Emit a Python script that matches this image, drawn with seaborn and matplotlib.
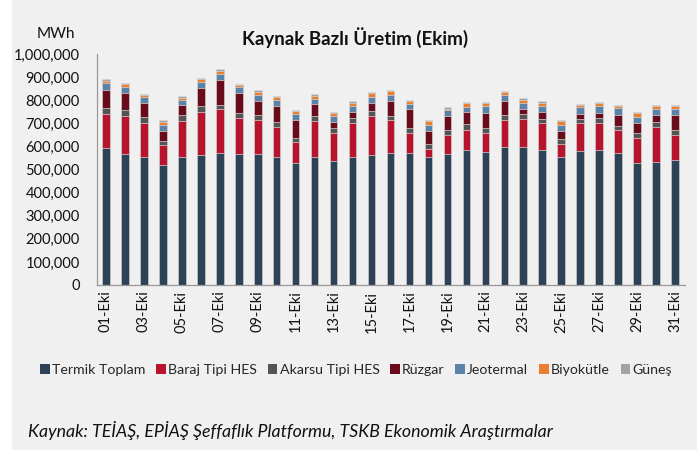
import matplotlib.pyplot as plt
import numpy as np
import pandas as pd
import seaborn as sns
from matplotlib.patches import Rectangle
from matplotlib.ticker import FuncFormatter, FixedLocator

days = ['{:02d}-Eki'.format(d) for d in range(1, 32)]

# MWh
termik = [594, 569, 556, 521, 556, 564, 573, 569, 569, 556, 527, 556, 535, 553, 564, 573,
          573, 553, 569, 584, 574, 597, 599, 584, 556, 580, 584, 570, 527, 532, 543]
baraj = [148, 163, 145, 84, 155, 186, 188, 153, 144, 127, 91, 153, 122, 150, 169, 140,
         86, 36, 82, 86, 85, 116, 120, 116, 56, 120, 119, 101, 109, 152, 108]
akarsu = [23, 24, 26, 18, 26, 25, 18, 21, 24, 23, 18, 23, 23, 20, 20, 19,
          21, 21, 20, 26, 22, 23, 23, 19, 20, 19, 20, 19, 22, 22, 20]
ruzgar = [81, 75, 62, 45, 42, 79, 110, 88, 61, 68, 80, 52, 27, 26, 36, 66,
          81, 58, 62, 52, 65, 61, 21, 31, 36, 23, 23, 47, 45, 31, 66]
jeotermal = [30, 28, 25, 25, 23, 26, 23, 25, 25, 28, 26, 23, 26, 26, 23, 23,
             24, 26, 23, 21, 29, 24, 26, 25, 25, 27, 29, 28, 24, 24, 24]
biyokutle = [9, 11, 9, 14, 9, 10, 14, 9, 14, 10, 10, 13, 10, 14, 19, 18,
             10, 16, 6, 18, 12, 13, 13, 14, 16, 9, 11, 10, 18, 13, 13]
gunes = [7, 6, 5, 7, 7, 6, 8, 5, 6, 8, 6, 7, 7, 6, 6, 7,
         7, 6, 9, 4, 4, 6, 8, 6, 5, 7, 6, 6, 5, 7, 7]

names = ['Termik Toplam', 'Baraj Tipi HES', 'Akarsu Tipi HES', 'Rüzgar',
         'Jeotermal', 'Biyokütle', 'Güneş']
colors = ['#2d4256', '#b8142e', '#545454', '#6a0b1b', '#5b82a9', '#eb7f2e', '#a3a3a3']

df = pd.DataFrame({'gun': days})
for n, s in zip(names, [termik, baraj, akarsu, ruzgar, jeotermal, biyokutle, gunes]):
    df[n] = np.array(s) * 1000
cum = df[names].cumsum(axis=1)

sns.set_style('white')
plt.rcParams['font.family'] = ['Lato', 'DejaVu Sans']

bg = '#f0f0f0'
fig = plt.figure(figsize=(6.97, 4.5), dpi=100, facecolor='white')
fig.patches.append(Rectangle((12 / 697, 0), 1, 1, transform=fig.transFigure,
                             facecolor=bg, edgecolor='none', zorder=-10))
ax = fig.add_axes([96.5 / 697, 1 - 285 / 450, 588 / 697, 231 / 450])
ax.set_facecolor(bg)

# draw the cumulative layers from the top down so each one covers the next
for n, c in reversed(list(zip(names, colors))):
    sns.barplot(x=df['gun'], y=cum[n], color=c, width=0.4, saturation=1,
                edgecolor='#d6d6d6', linewidth=0.5, ax=ax)

ax.set_xlim(-0.5, 30.5)
ax.set_ylim(0, 1000000)
ax.set_yticks(np.arange(0, 1000001, 100000))
ax.yaxis.set_major_formatter(FuncFormatter(lambda v, p: '{:,.0f}'.format(v)))
ax.set_xticks(range(0, 31, 2))
ax.set_xticklabels(days[::2], rotation=90)
ax.xaxis.set_minor_locator(FixedLocator(np.arange(-0.5, 31, 2)))
ax.tick_params(axis='x', which='major', length=0, pad=4, labelsize=10.5, colors='#111111')
ax.tick_params(axis='x', which='minor', length=5, color='#888888', width=0.8, direction='out')
ax.tick_params(axis='y', length=5, color='#888888', width=0.8, direction='out',
               labelsize=10.5, pad=7)
ax.tick_params(axis='y', colors='#888888', labelcolor='#111111')
ax.set_xlabel('')
ax.set_ylabel('')
for s in ['top', 'right']:
    ax.spines[s].set_visible(False)
for s in ['left', 'bottom']:
    ax.spines[s].set_color('#999999')
    ax.spines[s].set_linewidth(0.9)

fig.text(355 / 697, 1 - 38 / 450, 'Kaynak Bazlı Üretim (Ekim)', ha='center', va='center',
         fontsize=13.5, fontweight='bold', color='#111111')
fig.text(56 / 697, 1 - 34 / 450, 'MWh', ha='center', va='center', fontsize=11, color='#111111')

handles = [Rectangle((0, 0), 1, 1, facecolor=c, edgecolor='none') for c in colors]
fig.legend(handles, names, loc='center', bbox_to_anchor=(356 / 697, 1 - 370 / 450), ncol=7,
           frameon=False, fontsize=10.2, handlelength=0.7, handleheight=0.7,
           handletextpad=0.15, columnspacing=0.75, borderaxespad=0)

fig.text(28 / 697, 1 - 431 / 450,
         'Kaynak: TEİAŞ, EPİAŞ Şeffaflık Platformu, TSKB Ekonomik Araştırmalar',
         ha='left', va='center', fontsize=12.8, style='italic', color='#111111')

fig.savefig('out.png', dpi=100, facecolor=fig.get_facecolor())
